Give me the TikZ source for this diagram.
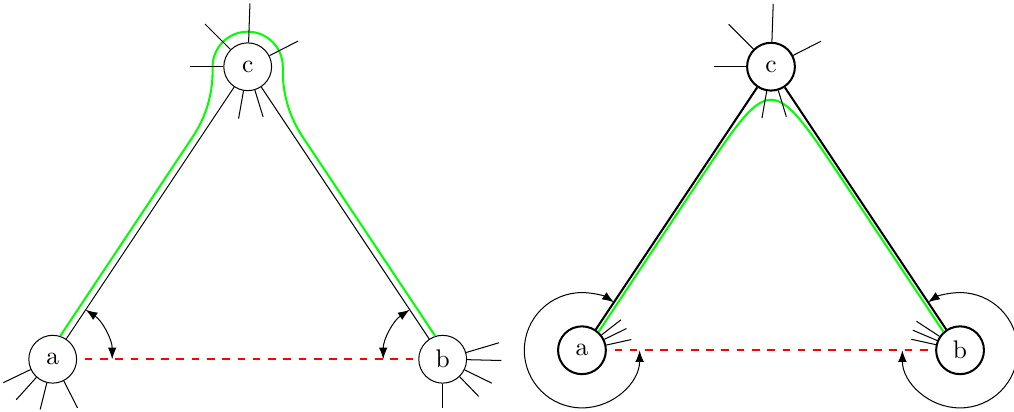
\documentclass[tikz,border=0pt]{standalone}
\usepackage{xcolor}
\usepackage{tikz}
\usetikzlibrary{arrows.meta}

\begin{document}
\begin{tikzpicture}[>={Latex[length=4.6pt,width=3.4pt]},
    vert/.style={draw, circle, minimum size=0.66cm, inner sep=0pt},
    walk/.style={green, thick},
    gap/.style={red, thick, dashed, dash phase=3pt}]
  \useasboundingbox (0,0) rectangle (14,5.688);

  % left triangle
  \begin{scope}[shift={(0.728,0.728)}, scale=1.346]
    \node[vert] (A1) at (0,0) {a};
    \node[vert] (B1) at (4,0) {b};
    \node[vert] (C1) at (2,3) {c};
    \draw (A1) -- (C1);
    \draw (C1) -- (B1);
    \draw[gap] (A1) -- (B1);
    \draw[walk] (A1.72) -- (1.438,2.284) arc[start angle=-33.7, end angle=0, radius=1.2]
      -- (1.64,3.0) arc[start angle=180, end angle=0, radius=0.36]
      -- (2.36,2.95) arc[start angle=180, end angle=213.7, radius=1.2] -- (B1.108);
    \foreach \ang/\len in {88/0.40, 135/0.37, 180/0.34, 27/0.33, -100/0.29, -73/0.29}
      \draw (C1.\ang) -- ++(\ang:\len);
    \foreach \ang/\len in {205.7/0.31, 228/0.31, 256/0.28, 297/0.31}
      \draw (A1.\ang) -- ++(\ang:\len);
    \foreach \ang/\len in {16.6/0.35, -1.4/0.35, -26/0.31, -46/0.28, -90/0.245}
      \draw (B1.\ang) -- ++(\ang:\len);
    \draw[<->] (0.61,0) arc[start angle=0, end angle=56.3, radius=0.61];
    \draw[<->] (3.39,0) arc[start angle=180, end angle=123.7, radius=0.61];
  \end{scope}

  % right triangle
  \begin{scope}[shift={(8.035,0.852)}, scale=1.305]
    \node[vert, thick] (A2) at (0,0) {a};
    \node[vert, thick] (B2) at (4,0) {b};
    \node[vert, thick] (C2) at (2,3) {c};
    \draw[thick] (A2) -- (C2);
    \draw[thick] (C2) -- (B2);
    \draw[gap] (A2) -- (B2);
    \draw[walk] (A2.48) -- (1.235,1.789) .. controls (2,2.937) .. (2.765,1.789) -- (B2.132);
    \foreach \ang/\len in {88/0.40, 135/0.37, 180/0.34, 27/0.33, -100/0.29, -73/0.29}
      \draw (C2.\ang) -- ++(\ang:\len);
    \foreach \ang/\len in {38/0.26, 26/0.26, 12.5/0.27}
      \draw (A2.\ang) -- ++(\ang:\len);
    \foreach \ang/\len in {146.8/0.29, 157/0.28, 167.6/0.265}
      \draw (B2.\ang) -- ++(\ang:\len);
    \draw[<->] (0.61,0) arc[start angle=0, end angle=-303.7, radius=0.61];
    \draw[<->] (3.39,0) arc[start angle=180, end angle=483.7, radius=0.61];
  \end{scope}
\end{tikzpicture}
\end{document}
